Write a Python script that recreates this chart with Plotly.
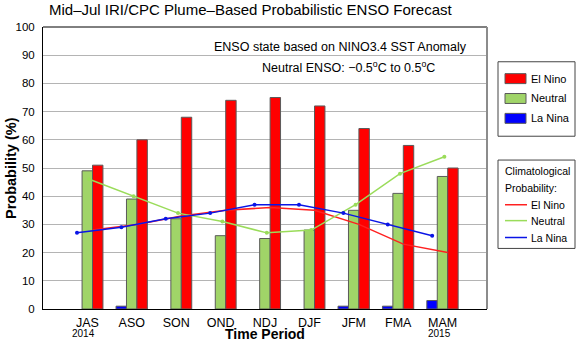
import plotly.graph_objects as go

# Forecast seasons and probabilities (%)
periods = ["JAS", "ASO", "SON", "OND", "NDJ", "DJF", "JFM", "FMA", "MAM"]
el_nino = [51, 60, 68, 74, 75, 72, 64, 58, 50]
neutral = [49, 39, 32, 26, 25, 28, 35, 41, 47]
la_nina = [0, 1, 0, 0, 0, 0, 1, 1, 3]

# Climatological probabilities (%)
clim_el_nino = [28, 30, 33, 35, 36, 35, 30, 23, 20]
clim_neutral = [46, 40, 34, 31, 27, 28, 37, 48, 54]
clim_la_nina = [27, 29, 32, 34, 37, 37, 34, 30, 26]

year_labels = [("JAS", "2014"), ("MAM", "2015")]

RED = "#FF0000"
GREEN = "#A0D468"
BLUE = "#0000FF"
LINE_RED = "#FF2020"
LINE_GREEN = "#9ADC5A"
LINE_BLUE = "#0A14E6"
FONT = "Liberation Sans, Arial, sans-serif"

W, H = 577, 342
L, R, T, B = 43, 487, 27, 311  # plot area in pixels


def px(x):
    return (x - L) / (R - L)


def py(y):
    return (B - y) / (B - T)


def label(text, x, y, size, xanchor="center", xref="paper", **kw):
    return dict(text=text, x=x, y=y, xref=xref, yref="paper", showarrow=False,
                xanchor=xanchor, yanchor="middle", borderpad=0,
                font=dict(size=size, color="black", family=FONT), **kw)


xi = list(range(len(periods)))
bw = 0.235

fig = go.Figure()
for vals, color, off in [(la_nina, BLUE, -0.355), (neutral, GREEN, -0.12), (el_nino, RED, 0.115)]:
    fig.add_trace(go.Bar(
        x=xi, y=[v if v > 0 else None for v in vals], width=bw, offset=off,
        marker=dict(color=color, line=dict(color="#5a5a5a", width=1)),
        showlegend=False, hoverinfo="skip",
    ))

fig.add_trace(go.Scatter(
    x=[i + 0.115 for i in xi], y=clim_el_nino, mode="lines",
    line=dict(color=LINE_RED, width=1.5), showlegend=False,
))
fig.add_trace(go.Scatter(
    x=[i + 0.04 for i in xi], y=clim_neutral, mode="lines+markers",
    line=dict(color=LINE_GREEN, width=1.5), marker=dict(size=4, color=LINE_GREEN),
    showlegend=False,
))
fig.add_trace(go.Scatter(
    x=[i - 0.235 for i in xi], y=clim_la_nina, mode="lines+markers",
    line=dict(color=LINE_BLUE, width=1.5), marker=dict(size=4, color=LINE_BLUE),
    showlegend=False,
))

shapes = [
    # top and right frame
    dict(type="line", xref="paper", yref="paper", x0=0, x1=1, y0=1, y1=1,
         line=dict(color="black", width=1)),
    dict(type="line", xref="paper", yref="paper", x0=1, x1=1, y0=0, y1=1,
         line=dict(color="#8c8c8c", width=2)),
]
annotations = [
    label("Mid\u2013Jul IRI/CPC Plume\u2013Based Probabilistic ENSO Forecast",
          px(250), py(9), 15),
    label("ENSO state based on NINO3.4 SST Anomaly", px(340), py(47), 12.5),
    label("Neutral ENSO: \u22120.5<sup>o</sup>C to 0.5<sup>o</sup>C", px(348), py(67), 12.5),
    label("<b>Time Period</b>", px(265), py(336.5), 14),
    label("<b>Probability (%)</b>", px(11), 0.5, 14.5, textangle=-90),
]
for name, yr in year_labels:
    annotations.append(label(yr, periods.index(name) - 0.08, py(336), 10, xref="x"))

# Forecast legend
shapes.append(dict(type="rect", xref="paper", yref="paper",
                   x0=px(498), x1=px(575), y0=py(62), y1=py(137),
                   line=dict(color="#444444", width=1), fillcolor="white"))
for name, color, yc in [("El Nino", RED, 79), ("Neutral", GREEN, 99), ("La Nina", BLUE, 119)]:
    shapes.append(dict(type="rect", xref="paper", yref="paper",
                       x0=px(505), x1=px(526), y0=py(yc - 5), y1=py(yc + 5),
                       line=dict(color="#5a5a5a", width=1), fillcolor=color))
    annotations.append(label(name, px(530), py(yc), 11, xanchor="left"))

# Climatology legend
shapes.append(dict(type="rect", xref="paper", yref="paper",
                   x0=px(498), x1=px(575), y0=py(161), y1=py(250),
                   line=dict(color="#444444", width=1), fillcolor="white"))
annotations.append(label("Climatological", px(504), py(172), 10.5, xanchor="left"))
annotations.append(label("Probability:", px(504), py(189), 10.5, xanchor="left"))
for name, color, yc in [("El Nino", LINE_RED, 206), ("Neutral", LINE_GREEN, 222), ("La Nina", LINE_BLUE, 239)]:
    shapes.append(dict(type="line", xref="paper", yref="paper",
                       x0=px(505), x1=px(527), y0=py(yc), y1=py(yc),
                       line=dict(color=color, width=1.5)))
    annotations.append(label(name, px(530), py(yc), 10.5, xanchor="left"))

fig.update_layout(
    width=W, height=H,
    margin=dict(l=L, r=W - R, t=T, b=H - B, pad=0),
    paper_bgcolor="white", plot_bgcolor="white",
    barmode="overlay",
    font=dict(family=FONT, color="black"),
    shapes=shapes, annotations=annotations,
    xaxis=dict(range=[-1, 9], tickvals=xi, ticktext=periods, showgrid=False,
               showline=True, linecolor="black", linewidth=1, ticks="",
               zeroline=False, tickfont=dict(size=12.5, color="black"),
               ticklabelstandoff=2, fixedrange=True),
    yaxis=dict(range=[0, 100], tickvals=list(range(0, 101, 10)), showgrid=True,
               gridcolor="#b4b4b4", gridwidth=1, showline=True, linecolor="black",
               linewidth=1, ticks="", zeroline=False,
               tickfont=dict(size=11.5, color="black"), ticklabelstandoff=5,
               fixedrange=True),
)

fig.write_html("out.html")
